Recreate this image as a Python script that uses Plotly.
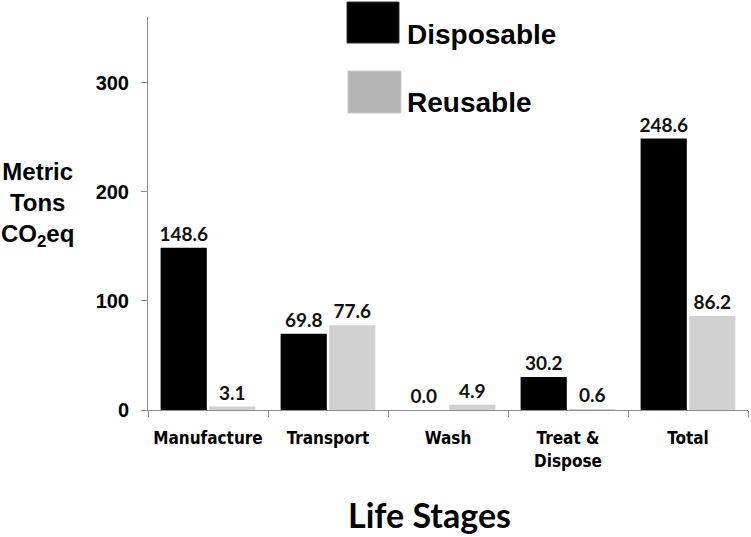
import plotly.graph_objects as go

categories = ["Manufacture", "Transport", "Wash", "Treat &<br>Dispose", "Total"]
disposable = [148.6, 69.8, 0.0, 30.2, 248.6]
reusable = [3.1, 77.6, 4.9, 0.6, 86.2]
y_ticks = [0, 100, 200, 300]

label_font = dict(family="Lato, Open Sans, sans-serif", size=19, color="#111111", weight="bold")

fig = go.Figure()
fig.add_trace(go.Bar(
    x=categories, y=disposable, name="Disposable",
    marker=dict(color="#000000", line=dict(width=0)),
    text=[f"{v:.1f}" for v in disposable], textposition="outside",
    textfont=label_font, cliponaxis=False, constraintext="none",
))
fig.add_trace(go.Bar(
    x=categories, y=reusable, name="Reusable",
    marker=dict(color="#d0d0d0", line=dict(width=0)),
    text=[f"{v:.1f}" for v in reusable], textposition="outside",
    textfont=label_font, cliponaxis=False, constraintext="none",
))

# plot area in pixels: x 148..748, y 17..410
def px(x):
    return (x - 148) / 600.0

def py(y):
    return (410 - y) / 393.0

shapes = [
    dict(type="rect", xref="paper", yref="paper",
         x0=px(347), x1=px(399), y0=py(43), y1=py(2),
         fillcolor="#000000", line=dict(color="#333333", width=1)),
    dict(type="rect", xref="paper", yref="paper",
         x0=px(348), x1=px(401), y0=py(113), y1=py(71),
         fillcolor="#b4b4b4", line=dict(color="#cccccc", width=1)),
]

legend_font = dict(family="Liberation Sans, Arial, sans-serif", size=28, color="#000000", weight="bold")
annotations = [
    dict(text="Disposable", xref="paper", yref="paper", x=px(405), y=py(34),
         xanchor="left", yanchor="middle", showarrow=False, font=legend_font),
    dict(text="Reusable", xref="paper", yref="paper", x=px(405), y=py(102),
         xanchor="left", yanchor="middle", showarrow=False, font=legend_font),
    dict(text="Metric<br>Tons<br>CO<sub>2</sub>eq", xref="paper", yref="paper",
         x=px(37), y=py(204), xanchor="center", yanchor="middle", showarrow=False,
         align="center",
         font=dict(family="Liberation Sans, Arial, sans-serif", size=24, color="#000000", weight="bold")),
    dict(text="Life Stages", xref="paper", yref="paper", x=px(429), y=py(514),
         xanchor="center", yanchor="middle", showarrow=False,
         font=dict(family="Lato, Open Sans, sans-serif", size=34, color="#000000", weight="bold")),
]

fig.update_layout(
    width=751, height=537,
    margin=dict(l=148, r=3, t=17, b=127),
    paper_bgcolor="white", plot_bgcolor="white",
    barmode="group", bargap=0.19, bargroupgap=0.05,
    showlegend=False,
    shapes=shapes, annotations=annotations,
    xaxis=dict(
        showline=True, linecolor="#8c8c8c", linewidth=1,
        ticks="outside", tickson="boundaries", ticklen=6, tickcolor="#8c8c8c",
        tickangle=0, ticklabelstandoff=13,
        tickfont=dict(family="DejaVu Sans Condensed, sans-serif",
                      size=17, color="#000000", weight="bold"),
        showgrid=False, zeroline=False,
    ),
    yaxis=dict(
        range=[0, 360], tickvals=y_ticks,
        showline=True, linecolor="#8c8c8c", linewidth=1,
        ticks="outside", ticklen=6, tickcolor="#8c8c8c",
        tickfont=dict(family="Liberation Sans, Arial, sans-serif", size=20, color="#000000", weight="bold"),
        ticklabelstandoff=8,
        showgrid=False, zeroline=False,
    ),
)

fig.write_html("out.html", config={"displayModeBar": False},
               post_script="document.body.style.margin='0px';document.body.style.overflow='hidden';")
